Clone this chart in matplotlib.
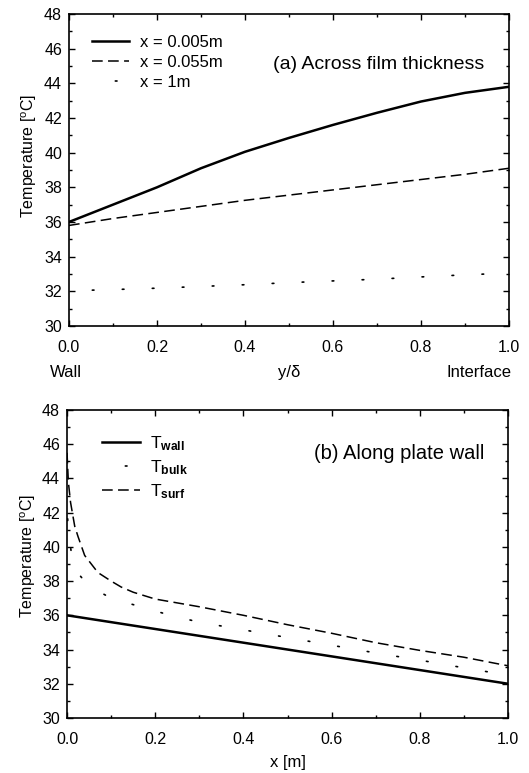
import matplotlib
matplotlib.use("Agg")
import matplotlib.pyplot as plt
from matplotlib.ticker import MultipleLocator

plt.rcParams["font.family"] = ["Liberation Sans", "DejaVu Sans"]
plt.rcParams["mathtext.fontset"] = "custom"
plt.rcParams["mathtext.rm"] = "Liberation Sans"
plt.rcParams["mathtext.it"] = "Liberation Sans:italic"
plt.rcParams["mathtext.bf"] = "Liberation Sans:bold"
plt.rcParams["font.size"] = 11.5

# (a) temperature profiles across the film thickness
y_delta = [0.0, 0.1, 0.2, 0.3, 0.4, 0.5, 0.6, 0.7, 0.8, 0.9, 1.0]
T_x0005 = [36.0, 37.0, 38.0, 39.1, 40.05, 40.85, 41.6, 42.3, 42.95, 43.45, 43.8]
T_x0055 = [35.8, 36.2, 36.55, 36.9, 37.25, 37.55, 37.85, 38.15, 38.45, 38.75, 39.1]
T_x1 = [32.03, 32.1, 32.18, 32.28, 32.38, 32.5, 32.6, 32.7, 32.83, 32.95, 33.05]
labels_a = ["x = 0.005m", "x = 0.055m", "x = 1m"]

# (b) temperatures along the plate wall
x_wall = [0.0, 0.2, 0.4, 0.6, 0.8, 1.0]
T_wall = [36.0, 35.2, 34.4, 33.6, 32.8, 32.0]
x_bulk = [0.0, 0.002, 0.01, 0.02, 0.05, 0.1, 0.16, 0.24, 0.3, 0.4, 0.5,
          0.6, 0.7, 0.8, 0.9, 1.0]
T_bulk = [43.0, 41.2, 39.6, 38.6, 37.7, 37.0, 36.55, 35.96, 35.6, 35.15, 34.7,
          34.25, 33.8, 33.38, 32.93, 32.5]
x_surf = [0.0, 0.003, 0.008, 0.0175, 0.025, 0.04, 0.07, 0.1, 0.123, 0.15, 0.2,
          0.3, 0.4, 0.5, 0.6, 0.7, 0.8, 0.9, 1.0]
T_surf = [45.5, 43.8, 42.6, 41.2, 40.6, 39.5, 38.5, 38.0, 37.65, 37.35, 36.95,
          36.5, 36.0, 35.45, 34.95, 34.4, 33.95, 33.55, 33.05]
labels_b = [r"T$_\mathbf{wall}$", r"T$_\mathbf{bulk}$", r"T$_\mathbf{surf}$"]

x_ticks = [0.0, 0.2, 0.4, 0.6, 0.8, 1.0]
y_ticks = [30, 32, 34, 36, 38, 40, 42, 44, 46, 48]

SOLID = dict(color="black", lw=1.8, linestyle="-")
DASHED = dict(color="black", lw=1.1, linestyle=(0, (7, 3.5)))
DOTTED = dict(color="black", lw=1.2, linestyle=(4, (1, 17)), dash_capstyle="round")

fig = plt.figure(figsize=(5.29, 7.73), dpi=100)
ax_a = fig.add_axes([0.1304, 0.5783, 0.8318, 0.4036])
ax_b = fig.add_axes([0.1267, 0.0712, 0.8336, 0.3984])


def style_axes(ax, label_x, label_y):
    ax.set_xlim(0, 1)
    ax.set_ylim(30, 48)
    ax.set_xticks(x_ticks)
    ax.set_xticklabels([f"{v:.1f}" for v in x_ticks])
    ax.set_yticks(y_ticks)
    ax.xaxis.set_minor_locator(MultipleLocator(0.1))
    ax.yaxis.set_minor_locator(MultipleLocator(1))
    ax.tick_params(which="both", direction="in", top=True, right=True,
                   labelsize=11.5, width=1.0, color="black")
    ax.tick_params(which="major", length=4)
    ax.tick_params(which="minor", length=2)
    ax.tick_params(axis="x", which="major", pad=10)
    ax.tick_params(axis="y", which="major", pad=5)
    for s in ax.spines.values():
        s.set_linewidth(1.2)
    ax.set_ylabel("Temperature [$^\\mathregular{o}$C]", fontsize=11.5)
    ax.yaxis.set_label_coords(label_x, label_y)


# panel (a)
ax_a.plot(y_delta, T_x0005, label=labels_a[0], **SOLID)
ax_a.plot(y_delta, T_x0055, label=labels_a[1], **DASHED)
ax_a.plot(y_delta, T_x1, label=labels_a[2], **DOTTED)
style_axes(ax_a, -0.069, 0.545)
ax_a.legend(loc="upper left", frameon=False, fontsize=12, handlelength=2.2,
            handletextpad=0.7, labelspacing=0.3, borderpad=0.0,
            bbox_to_anchor=(0.052, 0.932), borderaxespad=0.0)
ax_a.text(0.943, 0.838, "(a) Across film thickness", transform=ax_a.transAxes,
          ha="right", va="center", fontsize=14)
ax_a.set_xlabel("y/\u03b4", fontsize=12)
ax_a.xaxis.set_label_coords(0.5, -0.15)
ax_a.xaxis.label.set_va("center")
ax_a.text(-0.043, -0.15, "Wall", transform=ax_a.transAxes, ha="left",
          va="center", fontsize=12)
ax_a.text(1.005, -0.15, "Interface", transform=ax_a.transAxes, ha="right",
          va="center", fontsize=12)

# panel (b)
ax_b.plot(x_wall, T_wall, label=labels_b[0], **SOLID)
ax_b.plot(x_bulk, T_bulk, label=labels_b[1], **DOTTED)
ax_b.plot(x_surf, T_surf, label=labels_b[2], **DASHED)
style_axes(ax_b, -0.065, 0.526)
ax_b.legend(loc="upper left", frameon=False, fontsize=12.5, handlelength=2.2,
            handletextpad=0.6, labelspacing=0.3, borderpad=0.0,
            bbox_to_anchor=(0.079, 0.922), borderaxespad=0.0)
ax_b.text(0.946, 0.86, "(b) Along plate wall", transform=ax_b.transAxes,
          ha="right", va="center", fontsize=14.5)
ax_b.set_xlabel("x [m]", fontsize=12)
ax_b.xaxis.set_label_coords(0.5, -0.145)
ax_b.xaxis.label.set_va("center")

fig.savefig("out.png", dpi=100)
